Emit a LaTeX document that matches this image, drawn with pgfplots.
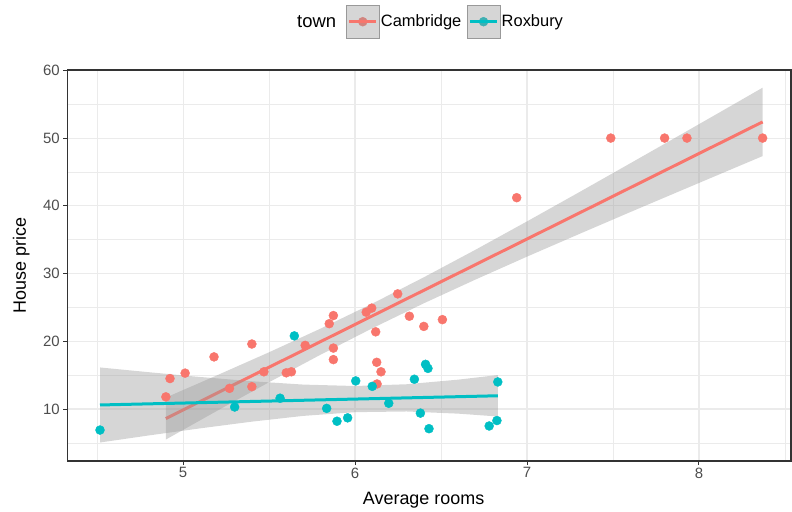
\documentclass[border=0pt]{standalone}
\usepackage{fontspec}
\setmainfont{Liberation Sans}
\usepackage{pgfplots}
\pgfplotsset{compat=1.18}
\definecolor{cam}{HTML}{F8766D}
\definecolor{rox}{HTML}{00BFC4}
\definecolor{gridc}{HTML}{EBEBEB}
\definecolor{bandc}{HTML}{999999}
\definecolor{txtc}{HTML}{4D4D4D}
\definecolor{framec}{HTML}{333333}
\begin{document}
\begin{tikzpicture}
\path[use as bounding box] (-67.5bp,-51bp) rectangle (724.5bp,461bp);
\begin{axis}[
  at={(0,0)}, anchor=south west,
  scale only axis, width=723.5bp, height=391bp,
  xmin=4.328, xmax=8.535, ymin=2.33, ymax=60.05,
  xtick={5,6,7,8}, ytick={10,20,30,40,50,60},
  minor xtick={4.5,5.5,6.5,7.5,8.5}, minor ytick={5,15,25,35,45,55},
  grid=both,
  major grid style={draw=gridc, line width=1.1bp},
  minor grid style={draw=gridc, line width=0.55bp},
  minor tick length=0pt,
  major tick length=4bp,
  tick align=outside, tick pos=left,
  tick style={draw=framec, line width=1bp},
  axis line style={draw=framec, line width=1.2bp},
  ticklabel style={font=\fontsize{15}{15}\selectfont, text=txtc},
  xticklabel style={inner sep=2.5bp},
  yticklabel style={inner sep=3.5bp},
  /pgf/number format/assume math mode=true,
  xlabel={Average rooms}, ylabel={House price},
  label style={font=\fontsize{18}{18}\selectfont},
  xlabel style={at={(axis description cs:0.4922,0)}, anchor=base, yshift=-43bp},
  ylabel style={at={(axis description cs:-0.0574,0.5)}, anchor=base},
  legend style={draw=none, fill=none, at={(axis description cs:0.385,1.1662)}, anchor=north west,
    inner sep=0pt, outer sep=0pt, font=\fontsize{16.5}{16.5}\selectfont,
    nodes={inner sep=1.5bp},
    /tikz/every even column/.append style={column sep=4bp}},
  legend columns=-1, legend cell align=left,
]
\addlegendimage{legend image code/.code={%
  \fill[cam] (16.5bp,0bp) circle (4.5bp);
  \fill[bandc, fill opacity=0.4] (0bp,-16.5bp) rectangle (33bp,16.5bp);
  \draw[cam, line width=3bp] (3bp,0bp) -- (30bp,0bp);
}}
\addlegendentry{Cambridge}
\addlegendimage{legend image code/.code={%
  \fill[rox] (16.5bp,0bp) circle (4.5bp);
  \fill[bandc, fill opacity=0.4] (0bp,-16.5bp) rectangle (33bp,16.5bp);
  \draw[rox, line width=3bp] (3bp,0bp) -- (30bp,0bp);
}}
\addlegendentry{Roxbury}

% Cambridge points
\addplot[cam, only marks, mark=*, mark size=4.5bp, mark options={draw=cam, fill=cam}, forget plot] table {
x y
4.924 14.5
5.012 15.3
4.90 11.8
5.18 17.7
5.40 19.6
5.27 13.05
5.40 13.3
5.47 15.5
5.60 15.35
5.63 15.5
5.71 19.4
5.85 22.6
5.874 23.8
5.874 19.0
5.874 17.3
6.065 24.3
6.097 24.9
6.12 21.4
6.248 27.0
6.316 23.7
6.40 22.2
6.508 23.2
6.126 16.9
6.151 15.5
6.128 13.7
6.94 41.2
7.487 50
7.80 50
7.93 50
8.37 50
};
% Roxbury points
\addplot[rox, only marks, mark=*, mark size=4.5bp, mark options={draw=rox, fill=rox}, forget plot] table {
x y
4.517 6.9
5.30 10.3
5.564 11.6
5.647 20.8
6.004 14.15
6.10 13.35
5.835 10.1
5.895 8.2
5.957 8.7
6.196 10.85
6.345 14.4
6.41 16.6
6.424 16.0
6.38 9.4
6.43 7.1
6.83 14.0
6.78 7.5
6.825 8.3
};
% Cambridge band and fit
\addplot[draw=none, fill=bandc, fill opacity=0.4, forget plot] table {
x y
4.90 11.70
5.2 15.01
5.5 18.38
5.8 21.88
6.1 25.56
6.4 29.45
6.7 33.51
7.0 37.70
7.3 41.96
7.6 46.27
7.9 50.60
8.2 54.96
8.37 57.44
8.37 47.34
8.2 45.52
7.9 42.30
7.6 39.07
7.3 35.80
7.0 32.50
6.7 29.11
6.4 25.61
6.1 21.92
5.8 18.03
5.5 13.96
5.2 9.77
4.90 5.50
};
\addplot[cam, line width=3bp, forget plot] table {
x y
4.90 8.6
8.37 52.39
};
% Roxbury band and fit
\addplot[draw=none, fill=bandc, fill opacity=0.4, forget plot] table {
x y
4.517 16.14
4.8 15.44
5.1 14.73
5.4 14.10
5.7 13.61
6.0 13.40
6.3 13.66
6.6 14.34
6.83 15.02
6.83 8.90
6.6 9.32
6.3 9.64
6.0 9.54
5.7 8.99
5.4 8.14
5.1 7.15
4.8 6.10
4.517 5.06
};
\addplot[rox, line width=3bp, forget plot] table {
x y
4.517 10.60
6.83 11.96
};
\end{axis}
\node[anchor=base west, font=\fontsize{18.5}{18.5}\selectfont, inner sep=0pt] at (229.5bp,433bp) {town};
\end{tikzpicture}
\end{document}
